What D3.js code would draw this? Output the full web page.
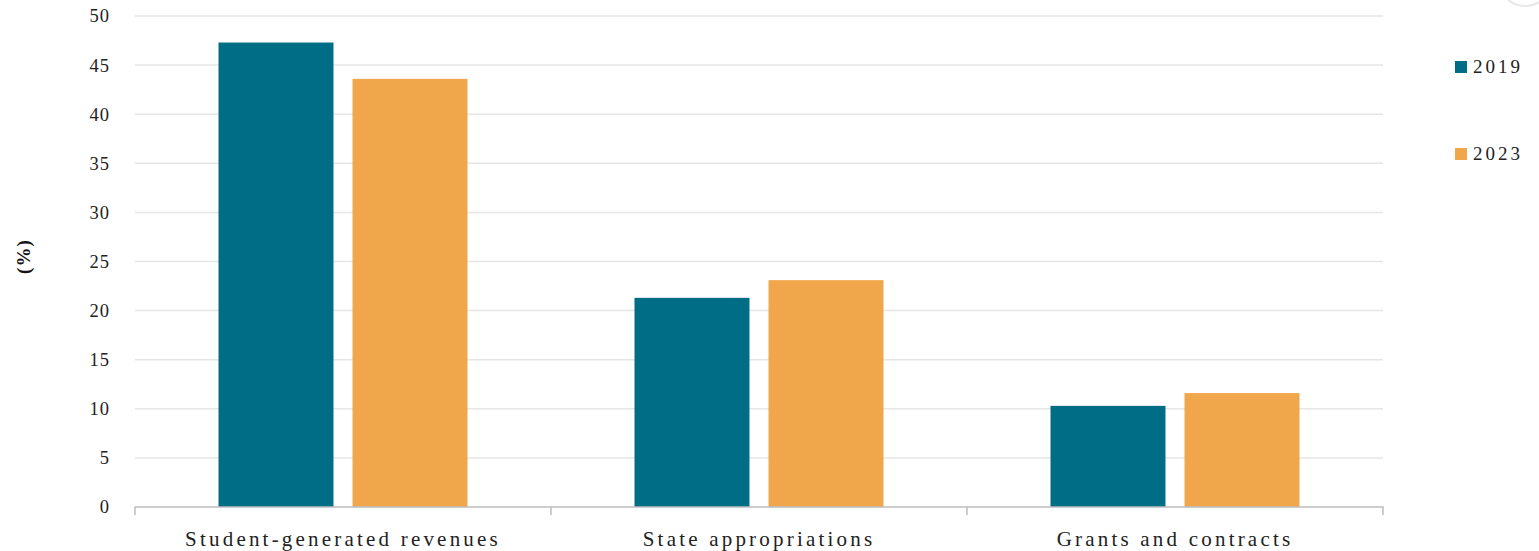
<!DOCTYPE html>
<html>
<head>
<meta charset="utf-8">
<script src="https://cdn.jsdelivr.net/npm/d3@7"></script>
<style>
  html, body { margin: 0; padding: 0; background: #fff; }
  svg { display: block; font-family: "Liberation Serif", "DejaVu Serif", serif; }
</style>
</head>
<body>
<div id="chart"></div>
<script>
const categories = ["Student-generated revenues", "State appropriations", "Grants and contracts"];
const seriesNames = ["2019", "2023"];
const values2019 = [47.3, 21.3, 10.3];
const values2023 = [43.6, 23.1, 11.6];
const yTicks = [0, 5, 10, 15, 20, 25, 30, 35, 40, 45, 50];
const colors = ["#006d87", "#f0a64b"];

const WIDTH = 1539, HEIGHT = 551;
const M = { top: 16, right: 156, bottom: 44, left: 135 };
const innerW = WIDTH - M.left - M.right;
const innerH = HEIGHT - M.top - M.bottom;

const svg = d3.select("#chart").append("svg")
  .attr("width", WIDTH).attr("height", HEIGHT);
const g = svg.append("g").attr("transform", `translate(${M.left},${M.top})`);

const data = categories.map((c, i) => ({ cat: c, vals: [values2019[i], values2023[i]] }));

const x = d3.scaleBand().domain(categories).range([0, innerW]).padding(0);
const xs = d3.scaleBand().domain(seriesNames).range([0, x.bandwidth()])
  .paddingInner(0.142).paddingOuter(0.623);
const y = d3.scaleLinear().domain([0, 50]).range([innerH, 0]);

// grid
g.append("g").selectAll("line").data(yTicks.filter(t => t > 0)).join("line")
  .attr("x1", 0).attr("x2", innerW)
  .attr("y1", d => y(d)).attr("y2", d => y(d))
  .attr("stroke", "#e6e6e6").attr("stroke-width", 1.5);

// y labels
const yAxis = g.append("g").call(d3.axisLeft(y).tickValues(yTicks).tickSize(0).tickPadding(25));
yAxis.select(".domain").remove();
yAxis.selectAll("text")
  .attr("font-family", "Liberation Serif, serif")
  .attr("font-size", 18.5).attr("letter-spacing", "1px").attr("fill", "#222");

// bars
const grp = g.selectAll(".grp").data(data).join("g")
  .attr("transform", d => `translate(${x(d.cat)},0)`);
grp.selectAll("rect").data(d => d.vals.map((v, i) => ({ s: seriesNames[i], v, i }))).join("rect")
  .attr("x", d => xs(d.s))
  .attr("width", xs.bandwidth())
  .attr("y", d => y(d.v))
  .attr("height", d => innerH - y(d.v))
  .attr("fill", d => colors[d.i]);

// x axis
const xAxis = g.append("g").attr("transform", `translate(0,${innerH})`)
  .call(d3.axisBottom(x).tickSize(0).tickPadding(24));
xAxis.select(".domain").attr("stroke", "#bdbdbd").attr("stroke-width", 1.5)
  .attr("d", `M0,8V0H${innerW}V8`);
xAxis.selectAll("text")
  .attr("font-family", "Liberation Serif, serif")
  .attr("font-size", 21).attr("letter-spacing", "3.2px").attr("fill", "#222");
g.append("line").attr("x1", x(categories[1])).attr("x2", x(categories[1]))
  .attr("y1", innerH).attr("y2", innerH + 8).attr("stroke", "#bdbdbd").attr("stroke-width", 1.5);
g.append("line").attr("x1", x(categories[2])).attr("x2", x(categories[2]))
  .attr("y1", innerH).attr("y2", innerH + 8).attr("stroke", "#bdbdbd").attr("stroke-width", 1.5);

// y title
svg.append("text")
  .attr("transform", `translate(30,${M.top + y(25.5)}) rotate(-90)`)
  .attr("text-anchor", "middle")
  .attr("font-size", 19).attr("font-weight", "bold").attr("letter-spacing", "1px").attr("fill", "#111")
  .text("(%)");

// legend
const leg = svg.append("g").attr("transform", "translate(1455,0)");
seriesNames.forEach((s, i) => {
  const yy = 61 + i * 87;
  leg.append("rect").attr("x", 0).attr("y", yy).attr("width", 12).attr("height", 12).attr("fill", colors[i]);
  leg.append("text").attr("x", 18).attr("y", yy + 12)
    .attr("font-size", 19).attr("letter-spacing", "3px").attr("fill", "#222").text(s);
});

// corner artifact
svg.append("circle").attr("cx", 1525).attr("cy", -20).attr("r", 26)
  .attr("fill", "#fff").attr("stroke", "#e8e8e8").attr("stroke-width", 2);
</script>
</body>
</html>
